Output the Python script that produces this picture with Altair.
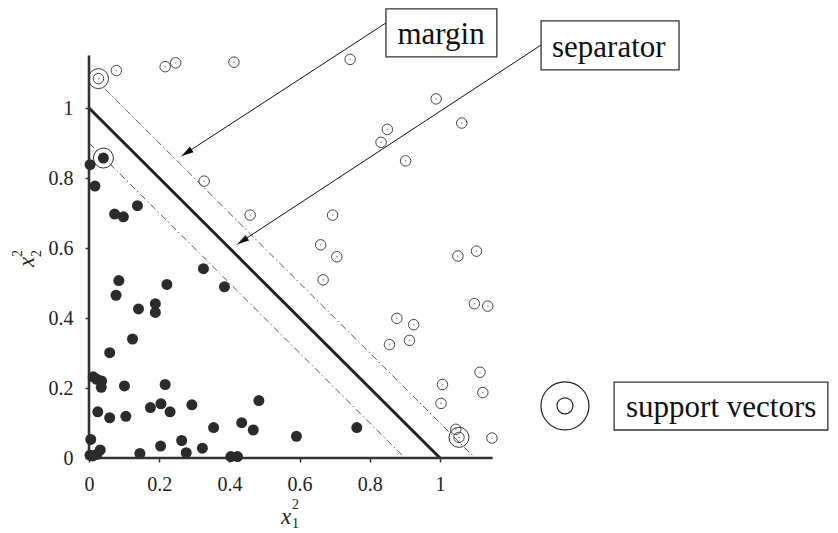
import math
import pandas as pd
import altair as alt

# ---------------- data ----------------
# class +1 (open circles)
pos_x = [0.027, 0.078, 0.217, 0.247, 0.413, 0.744, 0.989, 0.850, 0.832, 1.062,
         0.902, 0.328, 0.459, 0.694, 0.660, 0.706, 0.667, 0.877, 0.925, 0.913,
         0.856, 1.051, 1.104, 1.098, 1.136, 1.114, 1.122, 1.007, 1.003, 1.045,
         1.054, 1.148]
pos_y = [1.084, 1.107, 1.118, 1.129, 1.131, 1.139, 1.026, 0.939, 0.902, 0.957,
         0.849, 0.791, 0.694, 0.694, 0.609, 0.575, 0.509, 0.399, 0.381, 0.336,
         0.324, 0.577, 0.591, 0.441, 0.434, 0.245, 0.187, 0.210, 0.156, 0.082,
         0.059, 0.057]
# class -1 (filled circles)
neg_x = [0.003, 0.017, 0.041, 0.073, 0.098, 0.138, 0.326, 0.386, 0.085, 0.077,
         0.222, 0.141, 0.189, 0.189, 0.124, 0.059, 0.012, 0.022, 0.036, 0.035,
         0.101, 0.217, 0.025, 0.059, 0.105, 0.175, 0.205, 0.231, 0.293, 0.484,
         0.355, 0.435, 0.468, 0.591, 0.763, 0.005, 0.204, 0.264, 0.323, 0.277,
         0.145, 0.032, 0.003, 0.011, 0.022, 0.404, 0.423]
neg_y = [0.838, 0.777, 0.857, 0.697, 0.689, 0.721, 0.541, 0.489, 0.507, 0.465,
         0.496, 0.426, 0.441, 0.416, 0.340, 0.301, 0.232, 0.225, 0.220, 0.202,
         0.206, 0.210, 0.132, 0.115, 0.119, 0.144, 0.155, 0.132, 0.152, 0.164,
         0.087, 0.101, 0.080, 0.062, 0.087, 0.053, 0.034, 0.050, 0.028, 0.015,
         0.013, 0.023, 0.008, 0.006, 0.010, 0.004, 0.004]
# support vectors
sv_x = [0.027, 0.041, 1.054]
sv_y = [1.084, 0.857, 0.059]

tick_values = [0, 0.2, 0.4, 0.6, 0.8, 1]
axis_end = 1.15

# separator x1 + x2 = 1 and margins x1 + x2 = 0.9 / 1.1
sep_x, sep_y, sep_x2, sep_y2 = [0.0], [1.0], [1.0], [0.0]
mar_x, mar_y, mar_x2, mar_y2 = [0.0, 0.045], [0.9, 1.055], [0.9, 1.1], [0.0, 0.0]

# annotation boxes (data units)
box_label = ["margin", "separator", "support vectors"]
box_x1 = [0.846, 1.288, 1.496]
box_x2 = [1.162, 1.681, 2.105]
box_y1 = [1.283, 1.249, 0.217]
box_y2 = [1.146, 1.109, 0.080]
txt_x = [1.003, 1.481, 1.801]
txt_y = [1.183, 1.146, 0.117]

# arrows: start -> tip
arr_x = [0.846, 1.288]
arr_y = [1.243, 1.180]
arr_tx = [0.264, 0.4225]
arr_ty = [0.863, 0.6106]

# legend symbol
leg_x = [1.356]
leg_y = [0.149]

# ---------------- chart ----------------
W, H = 741, 450
XMAX = W / 351.0
YMAX = H / 350.0
PX, PY = W / XMAX, H / YMAX

xs = alt.Scale(domain=[0, XMAX], nice=False, zero=False)
ys = alt.Scale(domain=[0, YMAX], nice=False, zero=False)
FONT = "Liberation Serif, Times New Roman, serif"

def ax():
    return alt.Axis(values=tick_values, format="~g", title=None, domain=False,
                    grid=False, ticks=True, tickSize=4, tickWidth=1.5,
                    tickColor="#333", labelFont=FONT, labelFontSize=20,
                    labelColor="#222", labelPadding=12, labelFlush=False,
                    labelOverlap=False)

def X(f):
    return alt.X(f, type="quantitative", scale=xs, axis=ax())

def Y(f):
    return alt.Y(f, type="quantitative", scale=ys, axis=ax())

axes_df = pd.DataFrame({"x": [0, 0], "y": [0, 0], "x2": [axis_end, 0], "y2": [0, axis_end]})
axis_lines = alt.Chart(axes_df).mark_rule(color="#333", strokeWidth=2.6).encode(
    x=X("x"), y=Y("y"), x2="x2", y2="y2")

mar_df = pd.DataFrame({"x": mar_x, "y": mar_y, "x2": mar_x2, "y2": mar_y2})
margins = alt.Chart(mar_df).mark_rule(color="#555", strokeWidth=1,
                                      strokeDash=[7, 3, 1.5, 3]).encode(
    x=X("x"), y=Y("y"), x2="x2", y2="y2")

sep_df = pd.DataFrame({"x": sep_x, "y": sep_y, "x2": sep_x2, "y2": sep_y2})
separator = alt.Chart(sep_df).mark_rule(color="#222", strokeWidth=3).encode(
    x=X("x"), y=Y("y"), x2="x2", y2="y2")

neg_df = pd.DataFrame({"x": neg_x, "y": neg_y})
neg = alt.Chart(neg_df).mark_circle(size=121, color="#2b2b2b", opacity=1).encode(
    x=X("x"), y=Y("y"))

pos_df = pd.DataFrame({"x": pos_x, "y": pos_y})
pos = alt.Chart(pos_df).mark_point(shape="circle", filled=False, size=110,
                                   stroke="#444", strokeWidth=1, opacity=1).encode(
    x=X("x"), y=Y("y"))
pos_dot = alt.Chart(pos_df).mark_circle(size=3, color="#999", opacity=1).encode(
    x=X("x"), y=Y("y"))

sv_df = pd.DataFrame({"x": sv_x, "y": sv_y})
sv = alt.Chart(sv_df).mark_point(shape="circle", filled=False, size=400,
                                 stroke="#333", strokeWidth=1, opacity=1).encode(
    x=X("x"), y=Y("y"))

leg_df = pd.DataFrame({"x": leg_x, "y": leg_y})
leg_big = alt.Chart(leg_df).mark_point(shape="circle", filled=False, size=2304,
                                       stroke="#222", strokeWidth=1.2, opacity=1).encode(
    x=X("x"), y=Y("y"))
leg_small = alt.Chart(leg_df).mark_point(shape="circle", filled=False, size=256,
                                         stroke="#222", strokeWidth=1.2, opacity=1).encode(
    x=X("x"), y=Y("y"))

angles = []
for x0, y0, x1, y1 in zip(arr_x, arr_y, arr_tx, arr_ty):
    dx = (x1 - x0) * PX
    dy = -(y1 - y0) * PY
    angles.append(math.degrees(math.atan2(dx, -dy)) % 360)
arr_df = pd.DataFrame({"x": arr_x, "y": arr_y, "x2": arr_tx, "y2": arr_ty, "a": angles})
arrow_lines = alt.Chart(arr_df).mark_rule(color="#111", strokeWidth=1).encode(
    x=X("x"), y=Y("y"), x2="x2", y2="y2")
arrow_heads = alt.Chart(arr_df).mark_point(shape="M0,0L-0.28,1L0.28,1Z", filled=True,
                                           fill="#111", size=576, opacity=1,
                                           strokeWidth=0).encode(
    x=X("x2"), y=Y("y2"), angle=alt.Angle("a:Q", scale=None))

box_df = pd.DataFrame({"x": box_x1, "x2": box_x2, "y": box_y1, "y2": box_y2,
                       "tx": txt_x, "ty": txt_y, "label": box_label})
boxes = alt.Chart(box_df).mark_rect(fill="white", stroke="#333", strokeWidth=1.3).encode(
    x=X("x"), x2="x2", y=Y("y"), y2="y2")
box_text = alt.Chart(box_df).mark_text(font=FONT, fontSize=31, color="#111",
                                       align="center", baseline="alphabetic").encode(
    x=X("tx"), y=Y("ty"), text="label")

# axis titles x_1^2 and x_2^2 (pixel positions relative to plot origin)
xt_main = pd.DataFrame({"t": ["x"], "px": [197], "py": [516]})
xt_scr = pd.DataFrame({"t": ["2", "1"], "px": [206.5, 206.5], "py": [501, 520]})
yt_main = pd.DataFrame({"t": ["x"], "px": [-55], "py": [254]})
yt_scr = pd.DataFrame({"t": ["2", "2"], "px": [-67, -48], "py": [245.5, 245.5]})

def ttext(df, size, italic, angle=0):
    kw = dict(font=FONT, fontSize=size, color="#222", align="center",
              baseline="alphabetic", angle=angle)
    if italic:
        kw["fontStyle"] = "italic"
    return alt.Chart(df).mark_text(**kw).encode(
        x=alt.X("px:Q", scale=None), y=alt.Y("py:Q", scale=None), text="t:N")

titles = (ttext(xt_main, 23, True) + ttext(xt_scr, 14, False) +
          ttext(yt_main, 23, True, 270) + ttext(yt_scr, 14, False, 270))

chart = alt.layer(
    margins, separator, axis_lines, neg, pos, pos_dot, sv,
    arrow_lines, arrow_heads, boxes, box_text, leg_big, leg_small, titles
).properties(
    width=W, height=H,
    padding={"left": 81, "top": 0, "right": 0, "bottom": 75},
    autosize=alt.AutoSizeParams(type="none"),
).configure(background="white").configure_view(stroke=None)

chart.save("out.html", embed_options={"renderer": "svg", "actions": False})
